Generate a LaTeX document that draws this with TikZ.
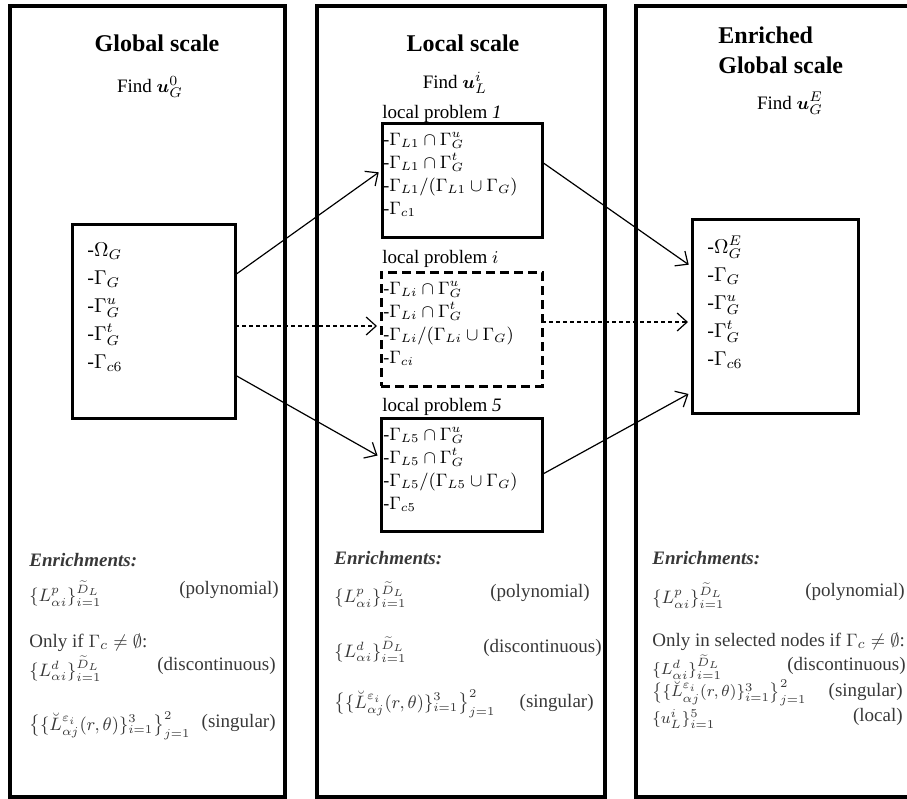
\documentclass[tikz,border=0pt]{standalone}
\usepackage{amsmath}
\usepackage{amssymb}
\usepackage{bm}
\usepackage{fontspec}
\setmainfont{Liberation Serif}
\usetikzlibrary{arrows.meta, calc}
\definecolor{enrgray}{gray}{0.22}

\begin{document}
\begin{tikzpicture}[x=0.5pt,y=-0.5pt,>={Straight Barb[length=5pt,width=9pt]}]
    % styles
    \tikzset{panel/.style={draw,line width=1.7pt,outer sep=0pt,anchor=north west,minimum height=395.5pt},
             box/.style={draw,line width=1.5pt,outer sep=0pt,anchor=north west},
             title/.style={font=\fontsize{12}{14}\selectfont\bfseries,inner sep=0pt},
             find/.style={font=\fontsize{9.5}{11}\selectfont,inner sep=0pt},
             lplabel/.style={font=\fontsize{9.5}{11}\selectfont,inner sep=0pt,anchor=west},
             gtext/.style={font=\fontsize{10}{14}\selectfont,align=left,inner sep=0pt,anchor=north west},
             ltext/.style={font=\fontsize{9}{11.5}\selectfont,align=left,inner sep=0pt,anchor=north west},
             enr/.style={font=\fontsize{9.5}{11}\selectfont,text=enrgray,inner sep=0pt,anchor=west},
             enrm/.style={enr,font=\fontsize{9}{10}\selectfont},
             enrs/.style={enr,font=\fontsize{8.5}{10}\selectfont},
             enrr/.style={enr,anchor=east},
             link/.style={->,line width=0.6pt,shorten >=2pt},
             dlink/.style={link,dash pattern=on 2pt off 1.5pt}}
    \useasboundingbox (0,0) rectangle (907,799);

    % panels
    \node[panel,minimum width=137.5pt] (gpanel) at (10,6) {};
    \node[panel,minimum width=144pt]   (lpanel) at (317,6) {};
    \node[panel,minimum width=145pt]   (epanel) at (636,6) {};

    % titles
    \node[title] (gtitle) at (157,43) {Global scale};
    \node[find]  (gfind)  at (150,87) {Find $\bm{u}_G^0$};
    \node[title] (ltitle) at (463,43) {Local scale};
    \node[find]  (lfind)  at (455,83) {Find $\bm{u}_L^i$};
    \node[title,anchor=west] (etitle)  at (718,35) {Enriched};
    \node[title,anchor=west] (etitle2) at (718,65) {Global scale};
    \node[find]  (efind)  at (790,103) {Find $\bm{u}_G^E$};

    % global boxes
    \node[box,minimum width=81.5pt,minimum height=97pt] (gbox) at (72,224) {};
    \node[gtext] (gtxt) at (87,242) {-$\Omega_G$\\ -$\Gamma_G$\\ -$\Gamma_G^u$\\ -$\Gamma_G^t$\\ -$\Gamma_{c6}$};
    \node[box,minimum width=83pt,minimum height=97pt] (ebox) at (692,219) {};
    \node[gtext] (etxt) at (707,236) {-$\Omega_G^E$\\ -$\Gamma_G$\\ -$\Gamma_G^u$\\ -$\Gamma_G^t$\\ -$\Gamma_{c6}$};

    % local problems
    \node[lplabel] (lp1lab) at (382,114) {local problem \textit{1}};
    \node[box,minimum width=80pt,minimum height=57pt] (lp1) at (382,123) {};
    \node[ltext] (lp1txt) at (383,132) {-$\Gamma_{L1}\cap\Gamma_G^u$\\ -$\Gamma_{L1}\cap\Gamma_G^t$\\ -$\Gamma_{L1}/(\Gamma_{L1}\cup\Gamma_G)$\\ -$\Gamma_{c1}$};

    \node[lplabel] (lpilab) at (382,259) {local problem $i$};
    \node[box,dash pattern=on 4.5pt off 2.5pt,minimum width=80.5pt,minimum height=57pt] (lpi) at (381,272) {};
    \node[ltext] (lpitxt) at (383,281) {-$\Gamma_{Li}\cap\Gamma_G^u$\\ -$\Gamma_{Li}\cap\Gamma_G^t$\\ -$\Gamma_{Li}/(\Gamma_{Li}\cup\Gamma_G)$\\ -$\Gamma_{ci}$};

    \node[lplabel] (lp5lab) at (382,407) {local problem \textit{5}};
    \node[box,minimum width=80.5pt,minimum height=56.5pt] (lp5) at (381,418) {};
    \node[ltext] (lp5txt) at (383,427) {-$\Gamma_{L5}\cap\Gamma_G^u$\\ -$\Gamma_{L5}\cap\Gamma_G^t$\\ -$\Gamma_{L5}/(\Gamma_{L5}\cup\Gamma_G)$\\ -$\Gamma_{c5}$};

    % connectors
    \draw[link]  ($(gbox.east)+(0,-46)$) -- ($(lp1.west)+(0,-10)$);
    \draw[dlink] ($(gbox.east)+(0,5)$)   -- ($(lpi.west)+(0,-3)$);
    \draw[link]  ($(gbox.east)+(0,54)$)  -- ($(lp5.west)+(0,-17)$);
    \draw[link]  ($(lp1.east)+(0,-18)$)  -- ($(ebox.west)+(0,-49)$);
    \draw[dlink] ($(lpi.east)+(0,-7)$)   -- ($(ebox.west)+(0,6)$);
    \draw[link]  ($(lp5.east)+(0,0)$)    -- ($(ebox.west)+(0,76)$);

    % enrichments, global
    \node[enr] (genr) at (29,560) {\textbf{\textit{Enrichments:}}};
    \node[enrm] (gpol) at (29,594) {$\{L_{\alpha i}^{p}\}_{i=1}^{\widetilde{D}_L}$};
    \node[enrr] (gpoll) at (279,590) {(polynomial)};
    \node[enr] (gonly) at (29,643) {Only if $\Gamma_c\neq\emptyset$:};
    \node[enrm] (gdis) at (29,669) {$\{L_{\alpha i}^{d}\}_{i=1}^{\widetilde{D}_L}$};
    \node[enrr] (gdisl) at (276,666) {(discontinuous)};
    \node[enrm] (gsin) at (29,726) {$\bigl\{\{\breve{L}_{\alpha j}^{\varepsilon_i}(r,\theta)\}_{i=1}^{3}\bigr\}_{j=1}^{2}$};
    \node[enrr] (gsinl) at (276,723) {(singular)};

    % enrichments, local
    \node[enr] (lenr) at (334,558) {\textbf{\textit{Enrichments:}}};
    \node[enrm] (lpol) at (334,595) {$\{L_{\alpha i}^{p}\}_{i=1}^{\widetilde{D}_L}$};
    \node[enrr] (lpoll) at (590,593) {(polynomial)};
    \node[enrm] (ldis) at (334,650) {$\{L_{\alpha i}^{d}\}_{i=1}^{\widetilde{D}_L}$};
    \node[enrr] (ldisl) at (602,648) {(discontinuous)};
    \node[enrm] (lsin) at (334,704) {$\bigl\{\{\breve{L}_{\alpha j}^{\varepsilon_i}(r,\theta)\}_{i=1}^{3}\bigr\}_{j=1}^{2}$};
    \node[enrr] (lsinl) at (594,703) {(singular)};

    % enrichments, enriched global
    \node[enr] (eenr) at (652,558) {\textbf{\textit{Enrichments:}}};
    \node[enrm] (epol) at (652,596) {$\{L_{\alpha i}^{p}\}_{i=1}^{\widetilde{D}_L}$};
    \node[enrr] (epoll) at (905,592) {(polynomial)};
    \node[enr] (eonly) at (652,642) {Only in selected nodes if $\Gamma_c\neq\emptyset$:};
    \node[enrs] (edis) at (652,667) {$\{L_{\alpha i}^{d}\}_{i=1}^{\widetilde{D}_L}$};
    \node[enrr] (edisl) at (906,666) {(discontinuous)};
    \node[enrs] (esin) at (652,693) {$\bigl\{\{\breve{L}_{\alpha j}^{\varepsilon_i}(r,\theta)\}_{i=1}^{3}\bigr\}_{j=1}^{2}$};
    \node[enrr] (esinl) at (903,692) {(singular)};
    \node[enrs] (eloc) at (652,719) {$\{u_L^{i}\}_{i=1}^{5}$};
    \node[enrr] (elocl) at (903,717) {(local)};
\end{tikzpicture}
\end{document}
